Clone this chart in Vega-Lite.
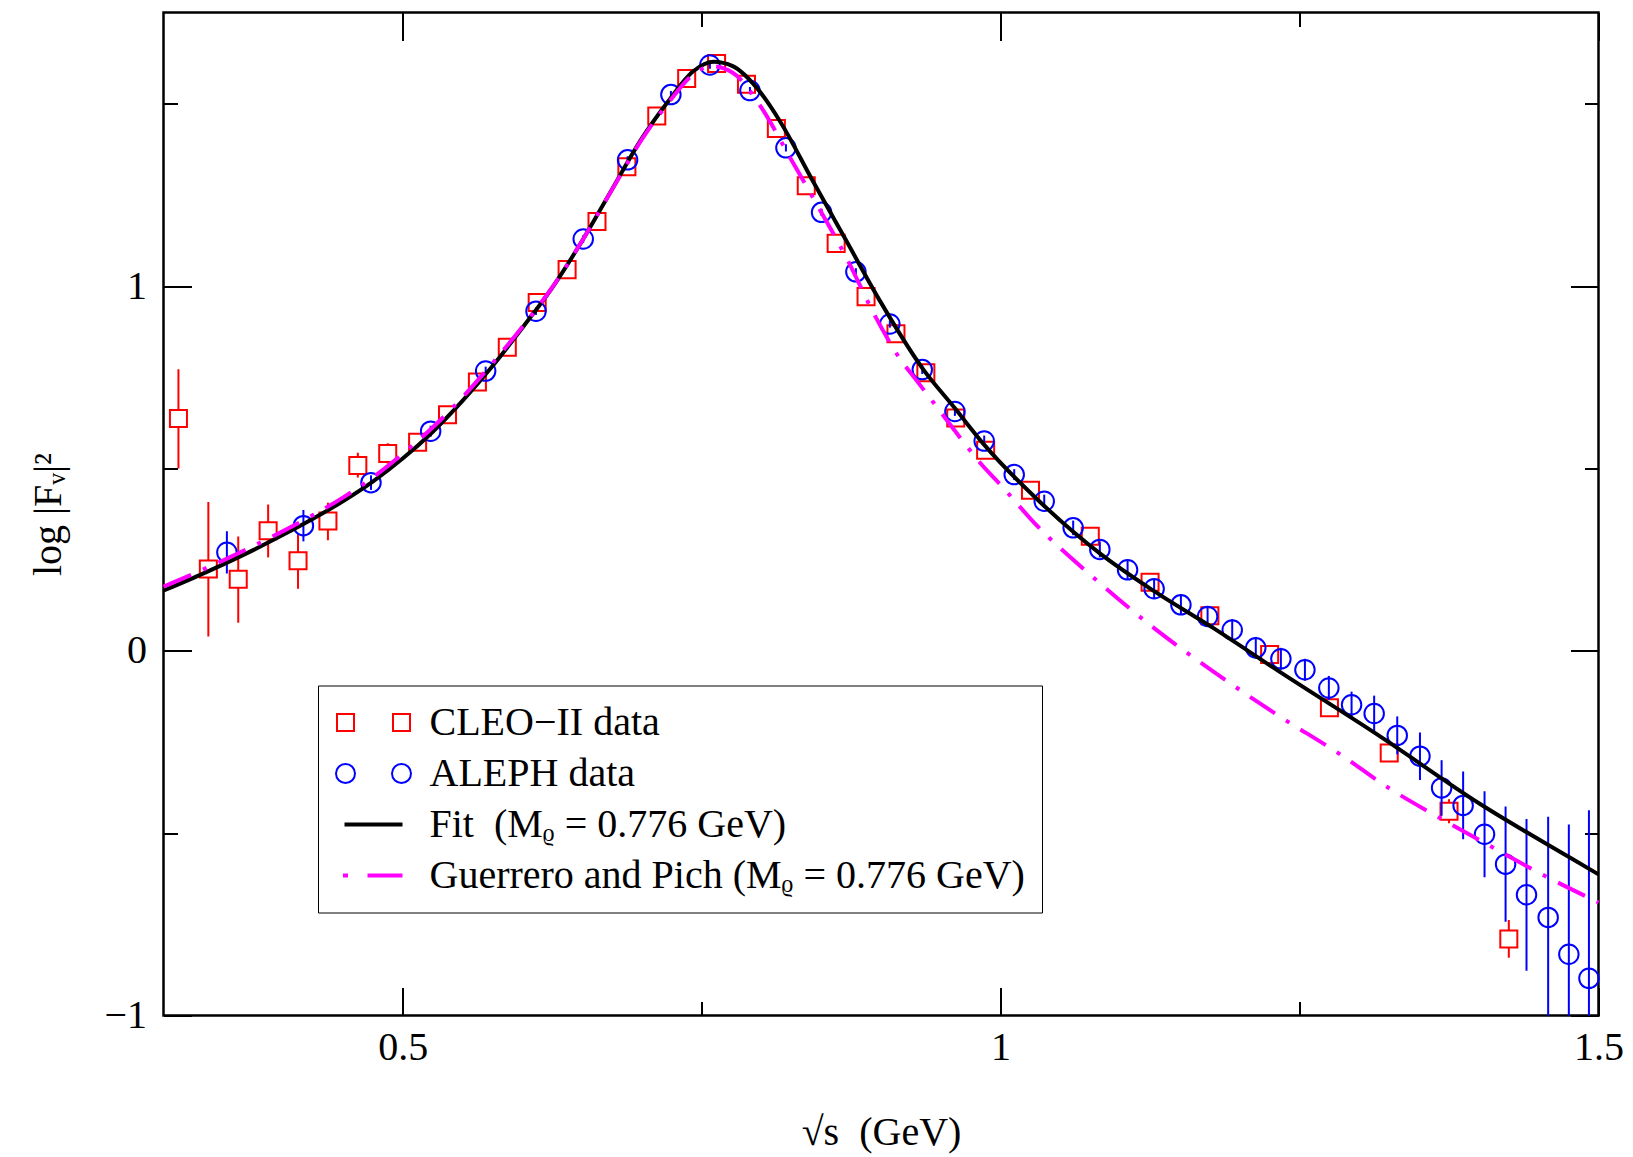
{
  "$schema": "https://vega.github.io/schema/vega-lite/v6.json",
  "width": 1435,
  "height": 1003,
  "autosize": "none",
  "padding": {"left": 163.5, "top": 12.5, "right": 34.5, "bottom": 141.5},
  "background": "white",
  "config": {
    "view": {"stroke": "black", "strokeWidth": 2.5},
    "font": "Liberation Serif",
    "axis": {
      "grid": false, "domain": false,
      "labelFont": "Liberation Serif", "labelFontSize": 40, "labelColor": "black",
      "titleFont": "Liberation Serif", "titleFontSize": 40, "titleFontWeight": "normal", "titleColor": "black",
      "tickColor": "black", "tickWidth": 2
    },
    "legend": {
      "symbolFillColor": "transparent", "symbolStrokeColor": "black", "symbolOpacity": 1,
      "symbolSize": 400, "symbolStrokeWidth": 2
    }
  },
  "datasets": {
    "series": [
      {"series": "CLEO"}, {"series": "ALEPH"}, {"series": "Fit"}, {"series": "GP"}
    ],
    "cleo": [
      {"x": 0.3125, "y": 0.637, "lo": 0.500, "hi": 0.772},
      {"x": 0.3375, "y": 0.224, "lo": 0.039, "hi": 0.408},
      {"x": 0.3625, "y": 0.196, "lo": 0.077, "hi": 0.313},
      {"x": 0.3875, "y": 0.329, "lo": 0.256, "hi": 0.401},
      {"x": 0.4125, "y": 0.247, "lo": 0.170, "hi": 0.320},
      {"x": 0.4375, "y": 0.356, "lo": 0.303, "hi": 0.406},
      {"x": 0.4625, "y": 0.508, "lo": 0.475, "hi": 0.543},
      {"x": 0.4875, "y": 0.541, "lo": 0.513, "hi": 0.569},
      {"x": 0.5125, "y": 0.572, "lo": 0.550, "hi": 0.594},
      {"x": 0.5375, "y": 0.647, "lo": 0.632, "hi": 0.662},
      {"x": 0.5625, "y": 0.737, "lo": 0.725, "hi": 0.749},
      {"x": 0.5875, "y": 0.832, "lo": 0.822, "hi": 0.842},
      {"x": 0.6125, "y": 0.955, "lo": 0.945, "hi": 0.965},
      {"x": 0.6375, "y": 1.045, "lo": 1.035, "hi": 1.055},
      {"x": 0.6625, "y": 1.177, "lo": 1.167, "hi": 1.187},
      {"x": 0.6875, "y": 1.327, "lo": 1.317, "hi": 1.337},
      {"x": 0.7125, "y": 1.466, "lo": 1.456, "hi": 1.476},
      {"x": 0.7375, "y": 1.569, "lo": 1.559, "hi": 1.579},
      {"x": 0.7625, "y": 1.610, "lo": 1.600, "hi": 1.620},
      {"x": 0.7875, "y": 1.553, "lo": 1.543, "hi": 1.563},
      {"x": 0.8125, "y": 1.432, "lo": 1.422, "hi": 1.442},
      {"x": 0.8375, "y": 1.275, "lo": 1.265, "hi": 1.285},
      {"x": 0.8625, "y": 1.117, "lo": 1.107, "hi": 1.127},
      {"x": 0.8875, "y": 0.971, "lo": 0.961, "hi": 0.981},
      {"x": 0.9125, "y": 0.869, "lo": 0.859, "hi": 0.879},
      {"x": 0.9375, "y": 0.762, "lo": 0.750, "hi": 0.774},
      {"x": 0.9625, "y": 0.638, "lo": 0.626, "hi": 0.650},
      {"x": 0.9875, "y": 0.550, "lo": 0.535, "hi": 0.565},
      {"x": 1.025, "y": 0.440, "lo": 0.428, "hi": 0.452},
      {"x": 1.075, "y": 0.314, "lo": 0.299, "hi": 0.329},
      {"x": 1.125, "y": 0.188, "lo": 0.173, "hi": 0.203},
      {"x": 1.175, "y": 0.096, "lo": 0.076, "hi": 0.116},
      {"x": 1.225, "y": -0.010, "lo": -0.030, "hi": 0.010},
      {"x": 1.275, "y": -0.156, "lo": -0.176, "hi": -0.136},
      {"x": 1.325, "y": -0.280, "lo": -0.305, "hi": -0.255},
      {"x": 1.375, "y": -0.440, "lo": -0.473, "hi": -0.407},
      {"x": 1.425, "y": -0.790, "lo": -0.842, "hi": -0.738}
    ],
    "aleph": [
      {"x": 0.353, "y": 0.270, "lo": 0.212, "hi": 0.328},
      {"x": 0.417, "y": 0.343, "lo": 0.300, "hi": 0.386},
      {"x": 0.4735, "y": 0.461, "lo": 0.441, "hi": 0.481},
      {"x": 0.5234, "y": 0.602, "lo": 0.587, "hi": 0.617},
      {"x": 0.5694, "y": 0.767, "lo": 0.755, "hi": 0.779},
      {"x": 0.6115, "y": 0.931, "lo": 0.921, "hi": 0.941},
      {"x": 0.651, "y": 1.129, "lo": 1.119, "hi": 1.139},
      {"x": 0.6881, "y": 1.346, "lo": 1.336, "hi": 1.356},
      {"x": 0.7243, "y": 1.525, "lo": 1.515, "hi": 1.535},
      {"x": 0.7569, "y": 1.606, "lo": 1.596, "hi": 1.616},
      {"x": 0.7904, "y": 1.536, "lo": 1.526, "hi": 1.546},
      {"x": 0.8205, "y": 1.379, "lo": 1.369, "hi": 1.389},
      {"x": 0.8503, "y": 1.202, "lo": 1.192, "hi": 1.212},
      {"x": 0.879, "y": 1.039, "lo": 1.029, "hi": 1.049},
      {"x": 0.9074, "y": 0.896, "lo": 0.886, "hi": 0.906},
      {"x": 0.9345, "y": 0.771, "lo": 0.759, "hi": 0.783},
      {"x": 0.9618, "y": 0.656, "lo": 0.644, "hi": 0.668},
      {"x": 0.9863, "y": 0.575, "lo": 0.560, "hi": 0.590},
      {"x": 1.0114, "y": 0.483, "lo": 0.468, "hi": 0.498},
      {"x": 1.0365, "y": 0.410, "lo": 0.392, "hi": 0.428},
      {"x": 1.0607, "y": 0.337, "lo": 0.317, "hi": 0.357},
      {"x": 1.083, "y": 0.278, "lo": 0.256, "hi": 0.300},
      {"x": 1.1062, "y": 0.222, "lo": 0.197, "hi": 0.247},
      {"x": 1.1284, "y": 0.170, "lo": 0.143, "hi": 0.197},
      {"x": 1.1508, "y": 0.126, "lo": 0.098, "hi": 0.154},
      {"x": 1.1731, "y": 0.094, "lo": 0.066, "hi": 0.122},
      {"x": 1.1937, "y": 0.057, "lo": 0.027, "hi": 0.087},
      {"x": 1.2134, "y": 0.008, "lo": -0.022, "hi": 0.038},
      {"x": 1.2344, "y": -0.022, "lo": -0.052, "hi": 0.008},
      {"x": 1.2545, "y": -0.052, "lo": -0.082, "hi": -0.022},
      {"x": 1.2745, "y": -0.102, "lo": -0.135, "hi": -0.069},
      {"x": 1.2935, "y": -0.148, "lo": -0.184, "hi": -0.112},
      {"x": 1.3124, "y": -0.172, "lo": -0.221, "hi": -0.123},
      {"x": 1.3317, "y": -0.232, "lo": -0.284, "hi": -0.180},
      {"x": 1.3507, "y": -0.289, "lo": -0.354, "hi": -0.224},
      {"x": 1.3688, "y": -0.376, "lo": -0.452, "hi": -0.300},
      {"x": 1.3868, "y": -0.424, "lo": -0.517, "hi": -0.331},
      {"x": 1.4047, "y": -0.503, "lo": -0.621, "hi": -0.385},
      {"x": 1.4223, "y": -0.585, "lo": -0.743, "hi": -0.427},
      {"x": 1.4398, "y": -0.669, "lo": -0.877, "hi": -0.461},
      {"x": 1.4579, "y": -0.731, "lo": -1.007, "hi": -0.455},
      {"x": 1.4752, "y": -0.832, "lo": -1.188, "hi": -0.476},
      {"x": 1.492, "y": -0.898, "lo": -1.359, "hi": -0.437}
    ],
    "fit": [
      {"x": 0.300, "y": 0.165}, {"x": 0.325, "y": 0.200}, {"x": 0.350, "y": 0.237},
      {"x": 0.375, "y": 0.276}, {"x": 0.400, "y": 0.318}, {"x": 0.425, "y": 0.362},
      {"x": 0.450, "y": 0.410}, {"x": 0.475, "y": 0.464}, {"x": 0.500, "y": 0.527},
      {"x": 0.525, "y": 0.600}, {"x": 0.550, "y": 0.685}, {"x": 0.575, "y": 0.780},
      {"x": 0.600, "y": 0.885}, {"x": 0.625, "y": 0.995}, {"x": 0.651, "y": 1.129},
      {"x": 0.675, "y": 1.265}, {"x": 0.700, "y": 1.405}, {"x": 0.721, "y": 1.502},
      {"x": 0.743, "y": 1.589}, {"x": 0.760, "y": 1.615}, {"x": 0.776, "y": 1.603},
      {"x": 0.796, "y": 1.544}, {"x": 0.8155, "y": 1.452}, {"x": 0.843, "y": 1.288},
      {"x": 0.871, "y": 1.124}, {"x": 0.899, "y": 0.960}, {"x": 0.935, "y": 0.773},
      {"x": 0.962, "y": 0.664}, {"x": 0.9855, "y": 0.568}, {"x": 1.033, "y": 0.408},
      {"x": 1.083, "y": 0.267}, {"x": 1.130, "y": 0.160}, {"x": 1.178, "y": 0.062},
      {"x": 1.2335, "y": -0.058}, {"x": 1.317, "y": -0.234}, {"x": 1.401, "y": -0.420},
      {"x": 1.475, "y": -0.565}, {"x": 1.500, "y": -0.613}
    ],
    "gp": [
      {"x": 0.300, "y": 0.176}, {"x": 0.325, "y": 0.211}, {"x": 0.350, "y": 0.248},
      {"x": 0.375, "y": 0.287}, {"x": 0.400, "y": 0.328}, {"x": 0.425, "y": 0.372},
      {"x": 0.450, "y": 0.420}, {"x": 0.475, "y": 0.475}, {"x": 0.500, "y": 0.540},
      {"x": 0.525, "y": 0.612}, {"x": 0.550, "y": 0.695}, {"x": 0.575, "y": 0.788},
      {"x": 0.600, "y": 0.888}, {"x": 0.625, "y": 0.996}, {"x": 0.651, "y": 1.129},
      {"x": 0.675, "y": 1.264}, {"x": 0.700, "y": 1.402}, {"x": 0.721, "y": 1.497},
      {"x": 0.743, "y": 1.580}, {"x": 0.758, "y": 1.603}, {"x": 0.776, "y": 1.585},
      {"x": 0.800, "y": 1.489}, {"x": 0.824, "y": 1.352}, {"x": 0.843, "y": 1.243},
      {"x": 0.871, "y": 1.078}, {"x": 0.896, "y": 0.912}, {"x": 0.915, "y": 0.805},
      {"x": 0.930, "y": 0.740}, {"x": 0.944, "y": 0.680}, {"x": 0.966, "y": 0.585},
      {"x": 0.983, "y": 0.515}, {"x": 1.000, "y": 0.455}, {"x": 1.027, "y": 0.355},
      {"x": 1.080, "y": 0.194}, {"x": 1.130, "y": 0.058}, {"x": 1.178, "y": -0.057},
      {"x": 1.231, "y": -0.175}, {"x": 1.284, "y": -0.284}, {"x": 1.3255, "y": -0.378},
      {"x": 1.367, "y": -0.458}, {"x": 1.412, "y": -0.540}, {"x": 1.455, "y": -0.617},
      {"x": 1.500, "y": -0.690}
    ]
  },
  "layer": [
    {
      "data": {"name": "cleo"},
      "mark": {"type": "rule", "color": "#ff0000", "strokeWidth": 2, "clip": true},
      "encoding": {
        "x": {"field": "x", "type": "quantitative",
          "scale": {"domain": [0.3, 1.5], "nice": false, "zero": false},
          "axis": {"orient": "bottom", "values": [0.5, 1, 1.5], "format": "~g", "tickSize": -28, "labelPadding": 39.5, "labelFlush": false, "labelOverlap": false, "title": "√s\u00a0 (GeV)", "titlePadding": 45}},
        "y": {"field": "lo", "type": "quantitative",
          "scale": {"domain": [-1, 1.75], "nice": false, "zero": false},
          "axis": {"orient": "left", "values": [-1, 0, 1], "format": "~g", "tickSize": -28, "labelPadding": 45, "labelFlush": false, "labelOverlap": false, "title": "log |Fᵥ|²", "titlePadding": 35}},
        "y2": {"field": "hi"}
      }
    },
    {
      "data": {"name": "cleo"},
      "mark": {"type": "point", "shape": "square", "size": 290, "strokeWidth": 2, "filled": true, "fill": "white", "stroke": "#ff0000", "opacity": 1},
      "encoding": {
        "x": {"field": "x", "type": "quantitative",
          "axis": {"orient": "bottom", "values": [0.75, 1.25], "tickSize": -14, "labels": false, "title": null}},
        "y": {"field": "y", "type": "quantitative",
          "axis": {"orient": "left", "values": [-0.5, 0.5, 1.5], "tickSize": -14, "labels": false, "title": null}}
      }
    },
    {
      "data": {"name": "aleph"},
      "mark": {"type": "rule", "color": "#0000ff", "strokeWidth": 2, "clip": true},
      "encoding": {
        "x": {"field": "x", "type": "quantitative",
          "axis": {"orient": "top", "values": [0.5, 1, 1.5], "tickSize": -28, "labels": false, "title": null}},
        "y": {"field": "lo", "type": "quantitative",
          "axis": {"orient": "right", "values": [-1, 0, 1], "tickSize": -28, "labels": false, "title": null}},
        "y2": {"field": "hi"}
      }
    },
    {
      "data": {"name": "aleph"},
      "mark": {"type": "point", "shape": "circle", "size": 380, "strokeWidth": 2, "filled": false, "stroke": "#0000ff", "opacity": 1},
      "encoding": {
        "x": {"field": "x", "type": "quantitative",
          "axis": {"orient": "top", "values": [0.75, 1.25], "tickSize": -14, "labels": false, "title": null}},
        "y": {"field": "y", "type": "quantitative",
          "axis": {"orient": "right", "values": [-0.5, 0.5, 1.5], "tickSize": -14, "labels": false, "title": null}}
      }
    },
    {
      "data": {"name": "fit"},
      "mark": {"type": "line", "strokeWidth": 4, "interpolate": "monotone", "color": "#000000"},
      "encoding": {
        "x": {"field": "x", "type": "quantitative", "axis": null},
        "y": {"field": "y", "type": "quantitative", "axis": null}
      }
    },
    {
      "data": {"name": "gp"},
      "mark": {"type": "line", "strokeWidth": 4, "interpolate": "monotone", "strokeDash": [30, 13, 4, 13], "strokeCap": "butt", "color": "#ff00ff"},
      "encoding": {
        "x": {"field": "x", "type": "quantitative", "axis": null},
        "y": {"field": "y", "type": "quantitative", "axis": null}
      }
    },
    {
      "data": {"name": "series"},
      "mark": {"type": "point", "opacity": 0},
      "encoding": {
        "shape": {"field": "series", "type": "nominal",
          "scale": {"domain": ["CLEO", "ALEPH", "Fit", "GP"], "range": [
            "M-3.65,-0.85L-1.95,-0.85L-1.95,0.85L-3.65,0.85ZM1.95,-0.85L3.65,-0.85L3.65,0.85L1.95,0.85Z",
            "M-3.75,0C-3.75,-0.525,-3.325,-0.95,-2.8,-0.95C-2.275,-0.95,-1.85,-0.525,-1.85,0C-1.85,0.525,-2.275,0.95,-2.8,0.95C-3.325,0.95,-3.75,0.525,-3.75,0ZM1.85,0C1.85,-0.525,2.275,-0.95,2.8,-0.95C3.325,-0.95,3.75,-0.525,3.75,0C3.75,0.525,3.325,0.95,2.8,0.95C2.275,0.95,1.85,0.525,1.85,0Z",
            "M-2.8,-0.1L2.8,-0.1L2.8,0.1L-2.8,0.1Z",
            "M-2.95,-0.1L-2.65,-0.1L-2.65,0.1L-2.95,0.1ZM-0.5,-0.1L2.8,-0.1L2.8,0.1L-0.5,0.1Z"
          ]},
          "legend": {
            "orient": "none", "legendX": 154.5, "legendY": 673, "title": null, "direction": "vertical",
            "strokeColor": "black", "fillColor": "white", "padding": 17, "rowPadding": 11,
            "labelFont": "Liberation Serif", "labelFontSize": 40, "labelColor": "black", "labelLimit": 0,
            "labelOffset": 36, "symbolOffset": 18.5,
            "labelExpr": "datum.value === 'CLEO' ? 'CLEO−II data' : datum.value === 'ALEPH' ? 'ALEPH data' : datum.value === 'Fit' ? 'Fit\u00a0 (Mᵨ = 0.776 GeV)' : 'Guerrero and Pich (Mᵨ = 0.776 GeV)'"
          }},
        "stroke": {"field": "series", "type": "nominal",
          "scale": {"domain": ["CLEO", "ALEPH", "Fit", "GP"], "range": ["#ff0000", "#0000ff", "#000000", "#ff00ff"]},
          "legend": {
            "orient": "none", "legendX": 154.5, "legendY": 673, "title": null, "direction": "vertical",
            "strokeColor": "black", "fillColor": "white", "padding": 17, "rowPadding": 11,
            "labelFont": "Liberation Serif", "labelFontSize": 40, "labelColor": "black", "labelLimit": 0,
            "labelOffset": 36, "symbolOffset": 18.5,
            "labelExpr": "datum.value === 'CLEO' ? 'CLEO−II data' : datum.value === 'ALEPH' ? 'ALEPH data' : datum.value === 'Fit' ? 'Fit\u00a0 (Mᵨ = 0.776 GeV)' : 'Guerrero and Pich (Mᵨ = 0.776 GeV)'"
          }},
        "fill": {"field": "series", "type": "nominal",
          "scale": {"domain": ["CLEO", "ALEPH", "Fit", "GP"], "range": ["transparent", "transparent", "#000000", "#ff00ff"]},
          "legend": {
            "orient": "none", "legendX": 154.5, "legendY": 673, "title": null, "direction": "vertical",
            "strokeColor": "black", "fillColor": "white", "padding": 17, "rowPadding": 11,
            "labelFont": "Liberation Serif", "labelFontSize": 40, "labelColor": "black", "labelLimit": 0,
            "labelOffset": 36, "symbolOffset": 18.5,
            "labelExpr": "datum.value === 'CLEO' ? 'CLEO−II data' : datum.value === 'ALEPH' ? 'ALEPH data' : datum.value === 'Fit' ? 'Fit\u00a0 (Mᵨ = 0.776 GeV)' : 'Guerrero and Pich (Mᵨ = 0.776 GeV)'"
          }}
      }
    }
  ],
  "resolve": {"axis": {"x": "independent", "y": "independent"}}
}
